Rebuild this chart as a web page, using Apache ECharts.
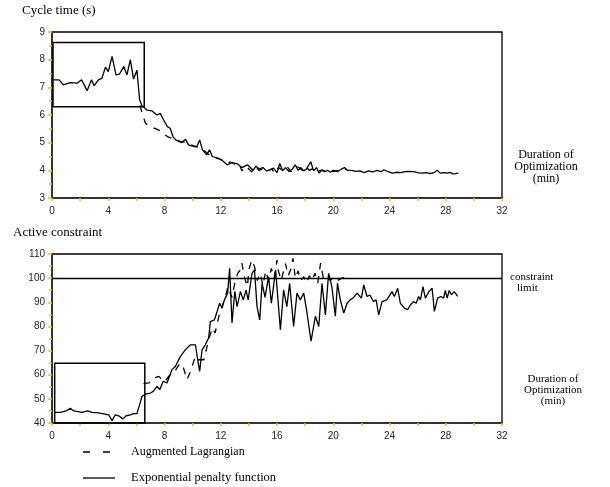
<!DOCTYPE html>
<html>
<head>
<meta charset="utf-8">
<script src="https://cdn.jsdelivr.net/npm/echarts@6/dist/echarts.min.js"></script>
<style>
  html, body { margin: 0; padding: 0; background: #fff; }
  #chart { width: 610px; height: 487px; }
</style>
</head>
<body>
<div id="chart"></div>
<script>
// 上圖：cycle time (s)
const cycleExpT = [0.1, 0.5, 0.8, 1.3, 1.8, 2.1, 2.5, 2.8, 3.0, 3.3, 3.55, 3.8, 4.0, 4.27, 4.55, 4.8, 5.1, 5.33, 5.57, 5.8, 6.04, 6.23, 6.4, 6.75, 7.1, 7.46, 7.7, 7.94, 8.2, 8.4, 8.6, 8.8, 9.2, 9.5, 9.7, 10.1, 10.3, 10.5, 10.7, 11.0, 11.2, 11.4, 11.8, 12.1, 12.45, 12.8, 13.2, 13.5, 13.9, 14.3, 14.5, 14.75, 15.0, 15.25, 15.5, 15.75, 16.0, 16.2, 16.4, 16.6, 16.85, 17.1, 17.3, 17.5, 17.7, 17.9, 18.1, 18.4, 18.6, 18.8, 19.0, 19.2, 19.4, 19.6, 19.8, 20.0, 20.3, 20.6, 20.8, 21.0, 21.3, 21.6, 21.9, 22.2, 22.5, 22.8, 23.1, 23.4, 23.6, 23.9, 24.2, 24.5, 24.8, 25.1, 25.4, 25.7, 26.0, 26.3, 26.6, 26.9, 27.2, 27.4, 27.6, 27.9, 28.1, 28.3, 28.5, 28.7, 28.9];
const cycleExpV = [7.27, 7.27, 7.09, 7.17, 7.15, 7.27, 6.88, 7.27, 7.06, 7.27, 7.33, 7.73, 7.57, 8.12, 7.45, 7.48, 7.75, 7.45, 8.0, 7.3, 7.62, 6.55, 6.33, 6.18, 6.15, 6.0, 6.06, 5.82, 5.58, 5.52, 5.22, 5.1, 5.0, 5.12, 4.92, 4.86, 4.86, 5.1, 4.74, 4.56, 4.74, 4.5, 4.44, 4.36, 4.2, 4.28, 4.23, 4.1, 4.2, 4.0, 4.15, 4.05, 4.1, 3.98, 4.02, 4.08, 3.92, 4.25, 3.98, 4.1, 3.96, 4.05, 4.2, 4.0, 4.1, 3.98, 4.05, 4.31, 3.98, 4.1, 3.9, 4.02, 3.95, 4.0, 3.93, 4.0, 3.95, 4.05, 4.1, 4.0, 4.0, 3.96, 3.98, 3.92, 3.98, 3.94, 4.0, 3.95, 4.02, 3.95, 3.9, 3.93, 3.92, 3.95, 3.96, 3.95, 3.92, 3.9, 3.92, 3.88, 3.93, 4.0, 3.9, 3.92, 3.9, 3.93, 3.87, 3.88, 3.9];
const cycleAugT = [6.25, 6.45, 6.65, 6.9, 7.1, 7.4, 7.7, 8.0, 8.2, 8.5, 8.8, 9.1, 9.4, 9.7, 10.0, 10.3, 10.6, 10.9, 11.2, 11.5, 11.8, 12.1, 12.4, 12.7, 13.0, 13.3, 13.5, 13.8, 14.0, 14.2, 14.5, 14.7, 15.0, 15.3, 15.6, 15.9, 16.1, 16.4, 16.7, 17.0, 17.2, 17.5, 17.8, 18.0, 18.3, 18.5, 18.8, 19.1, 19.4, 19.7, 20.0, 20.3, 20.6, 20.9];
const cycleAugV = [6.35, 6.0, 5.7, 5.6, 5.56, 5.5, 5.43, 5.3, 5.22, 5.16, 5.12, 5.05, 5.02, 4.95, 4.9, 4.85, 4.78, 4.68, 4.55, 4.48, 4.42, 4.38, 4.28, 4.3, 4.22, 4.25, 3.98, 4.15, 4.05, 3.95, 4.15, 4.0, 4.05, 3.95, 4.05, 3.9, 4.1, 4.0, 4.15, 3.95, 4.08, 4.12, 4.0, 4.15, 4.0, 4.05, 3.92, 4.0, 3.98, 4.02, 3.95, 4.0, 3.98, 4.05];

// 下圖：active constraint
const activeExpT = [0.19, 0.6, 1.0, 1.3, 1.55, 2.13, 2.53, 2.84, 3.2, 3.67, 4.03, 4.27, 4.5, 4.74, 5.05, 5.28, 5.57, 5.8, 6.04, 6.23, 6.4, 6.64, 7.0, 7.2, 7.47, 7.66, 7.9, 8.18, 8.53, 8.77, 9.13, 9.48, 9.84, 10.2, 10.36, 10.5, 10.67, 10.9, 11.14, 11.26, 11.55, 11.74, 11.92, 12.09, 12.26, 12.49, 12.63, 12.8, 13.0, 13.16, 13.4, 13.6, 13.8, 13.95, 14.22, 14.4, 14.58, 14.77, 14.94, 15.15, 15.4, 15.6, 15.9, 16.24, 16.47, 16.7, 16.9, 17.18, 17.42, 17.65, 17.9, 18.1, 18.42, 18.73, 18.97, 19.2, 19.44, 19.67, 19.9, 20.15, 20.3, 20.5, 20.75, 20.98, 21.2, 21.45, 21.7, 22.0, 22.17, 22.4, 22.6, 22.87, 23.05, 23.23, 23.47, 23.8, 24.18, 24.35, 24.58, 24.77, 25.06, 25.3, 25.5, 25.7, 25.9, 26.07, 26.2, 26.38, 26.55, 26.8, 27.03, 27.19, 27.42, 27.66, 27.85, 27.97, 28.1, 28.25, 28.4, 28.6, 28.85];
const activeExpV = [44.4, 44.4, 45.0, 46.1, 45.0, 44.4, 45.0, 44.4, 44.3, 43.8, 43.4, 41.0, 43.4, 43.0, 41.7, 43.0, 43.4, 43.9, 43.9, 47.6, 51.0, 52.0, 52.4, 53.1, 55.2, 53.8, 57.2, 56.6, 62.1, 63.4, 67.6, 70.3, 72.4, 72.4, 66.2, 61.4, 70.3, 72.4, 75.2, 82.0, 82.7, 86.2, 89.6, 87.6, 91.0, 93.8, 104.1, 81.4, 94.5, 88.2, 94.5, 91.0, 95, 91, 102, 103.4, 88.2, 82.7, 97.9, 92, 100.6, 89.6, 103.4, 78.6, 95.1, 88.2, 97.9, 80, 93.8, 91.0, 93.8, 86.9, 73.9, 84.2, 80, 97.9, 84.8, 102, 96.5, 84.2, 97.9, 91, 85.5, 89.6, 91, 92, 93.8, 91.7, 97.2, 92.4, 93, 90.3, 91, 84.8, 90.3, 91.0, 94.4, 92.4, 95.8, 89.6, 87.6, 87, 89, 90.3, 89.6, 92.4, 91, 96.5, 91.7, 94.4, 95.8, 86.2, 91.7, 92.4, 91.7, 94.9, 91.7, 94.9, 93.1, 94.4, 92.4];
const activeAugT = [6.5, 6.9, 7.2, 7.6, 8.0, 8.4, 8.8, 9.1, 9.35, 9.6, 9.8, 10.2, 10.4, 10.8, 11.0, 11.1, 11.4, 11.6, 11.9, 12.2, 12.4, 12.5, 12.8, 13.0, 13.2, 13.4, 13.5, 13.7, 13.9, 14.0, 14.2, 14.4, 14.6, 14.8, 15.0, 15.2, 15.4, 15.6, 15.8, 16.0, 16.1, 16.3, 16.6, 16.8, 17.0, 17.14, 17.3, 17.5, 17.7, 17.9, 18.1, 18.3, 18.5, 18.7, 18.9, 19.1, 19.3, 19.5, 19.8, 20.0, 20.3, 20.6, 21.0];
const activeAugV = [56.3, 56.6, 58.6, 59.3, 57, 60, 62, 64.8, 62.8, 57.9, 60.7, 67.6, 66.2, 66.2, 71, 73.8, 79.4, 77.3, 85, 90, 93.8, 96.5, 92, 98, 102, 103.4, 106.2, 100, 96.5, 103.4, 107.5, 104.8, 99, 102, 97, 103, 99, 104, 100, 107.5, 103, 99, 106, 101, 104, 108.2, 100, 103, 99, 100.6, 98, 101, 99, 102, 98, 106.2, 100, 101, 99, 100.5, 99, 100, 100.5];

// 放大框 (min, 值)
const cycleBox = [[0.07, 8.62], [6.56, 6.3]];
const activeBox = [[0.19, 64.7], [6.6, 39.8]];
const constraintLimit = 100;

const xTicks = { min: 0, max: 32, interval: 4 };
const cycleTicks = { min: 3, max: 9, interval: 1 };
const activeTicks = { min: 40, max: 110, interval: 10 };

const zip = (t, v) => t.map((x, i) => [x, v[i]]);

const serif = "Liberation Serif";
const sans = "Liberation Sans";
const tickColor = "#f0c000";

function xAxisOf(gridIndex) {
  return {
    type: "value", gridIndex, ...xTicks,
    axisLine: { show: true, lineStyle: { color: "#333", width: 2 } },
    axisTick: { show: true, length: 3, lineStyle: { color: tickColor, width: 1.5 } },
    minorTick: { show: true, splitNumber: 2, length: 3, lineStyle: { color: tickColor, width: 1.5 } },
    splitLine: { show: false },
    axisLabel: { fontFamily: sans, fontSize: 10, color: "#222", margin: 8 },
  };
}
function yAxisOf(gridIndex, ticks) {
  return {
    type: "value", gridIndex, ...ticks,
    axisLine: { show: true, lineStyle: { color: "#333", width: 2 } },
    axisTick: { show: true, length: 4, lineStyle: { color: tickColor, width: 1.5 } },
    minorTick: { show: true, splitNumber: 2, length: 3, lineStyle: { color: tickColor, width: 1.5 } },
    splitLine: { show: false },
    axisLabel: { fontFamily: sans, fontSize: 10, color: "#222", margin: 7 },
  };
}
function box(b) {
  return {
    silent: true,
    itemStyle: { color: "rgba(0,0,0,0)", borderColor: "#000", borderWidth: 1.5 },
    data: [[{ coord: b[0] }, { coord: b[1] }]],
  };
}
function lineSeries(name, xi, data, dashed, extra) {
  return Object.assign({
    name, type: "line", xAxisIndex: xi, yAxisIndex: xi, data,
    symbol: "none", animation: false, silent: true,
    lineStyle: { color: "#000", width: 1.3, type: dashed ? [7, 7] : "solid" },
  }, extra || {});
}

const chart = echarts.init(document.getElementById("chart"));
chart.setOption({
  backgroundColor: "#fff",
  animation: false,
  grid: [
    { left: 52, top: 32, width: 450, height: 166, show: true, borderColor: "#000", borderWidth: 1.3 },
    { left: 52, top: 254, width: 450, height: 169, show: true, borderColor: "#000", borderWidth: 1.3 },
  ],
  xAxis: [xAxisOf(0), xAxisOf(1)],
  yAxis: [yAxisOf(0, cycleTicks), yAxisOf(1, activeTicks)],
  series: [
    lineSeries("Exponential penalty function", 0, zip(cycleExpT, cycleExpV), false, { markArea: box(cycleBox) }),
    lineSeries("Augmented Lagrangian", 0, zip(cycleAugT, cycleAugV), true),
    lineSeries("Exponential penalty function", 1, zip(activeExpT, activeExpV), false, {
      markArea: box(activeBox),
      markLine: {
        silent: true, symbol: "none", label: { show: false },
        lineStyle: { color: "#000", width: 1.3, type: "solid" },
        data: [{ yAxis: constraintLimit }],
      },
    }),
    lineSeries("Augmented Lagrangian", 1, zip(activeAugT, activeAugV), true),
  ],
  graphic: [
    { type: "text", left: 22, top: 4, style: { text: "Cycle time (s)", font: "13px " + serif, fill: "#000" } },
    { type: "text", left: 13, top: 226, style: { text: "Active constraint", font: "13px " + serif, fill: "#000" } },
    { type: "text", x: 546, y: 149, style: { text: "Duration of\nOptimization\n(min)", font: "12px " + serif, fill: "#000", align: "center", lineHeight: 12 } },
    { type: "text", x: 510, y: 272, style: { text: "constraint", font: "11px " + serif, fill: "#000" } },
    { type: "text", x: 517, y: 283, style: { text: "limit", font: "11px " + serif, fill: "#000" } },
    { type: "text", x: 553, y: 374, style: { text: "Duration of\nOptimization\n(min)", font: "11px " + serif, fill: "#000", align: "center", lineHeight: 11 } },
    // 圖例
    { type: "line", shape: { x1: 83, y1: 452, x2: 110, y2: 452 }, style: { stroke: "#000", lineWidth: 1.3, lineDash: [7, 13] } },
    { type: "text", x: 131, y: 446, style: { text: "Augmented Lagrangian", font: "12px " + serif, fill: "#000" } },
    { type: "line", shape: { x1: 83, y1: 478, x2: 115, y2: 478 }, style: { stroke: "#000", lineWidth: 1.3 } },
    { type: "text", x: 131, y: 471, style: { text: "Exponential penalty function", font: "12.5px " + serif, fill: "#000" } },
  ],
});
</script>
</body>
</html>
